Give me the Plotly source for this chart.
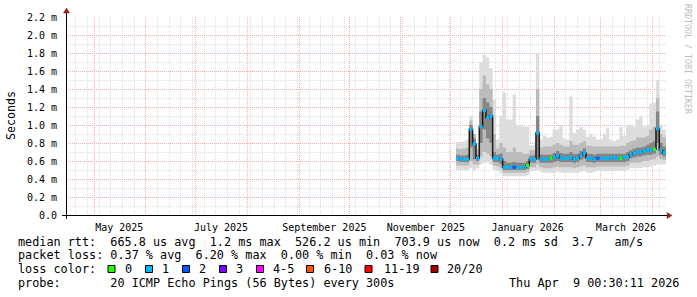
import plotly.graph_objects as go
import pandas as pd

# ---------------- data (values in ms) ----------------
dates = pd.date_range("2025-12-04", periods=64, freq="2D")

median_ms = [0.63, 0.62, 0.62, 0.62, 0.95, 0.79, 0.63, 0.98, 1.16, 1.08,
             1.10, 0.63, 0.63, 0.62, 0.53, 0.53, 0.53, 0.53, 0.53, 0.53,
             0.53, 0.55, 0.62, 0.62, 0.91, 0.62, 0.62, 0.62, 0.63, 0.64,
             0.66, 0.63, 0.63, 0.63, 0.64, 0.62, 0.63, 0.66, 0.69, 0.63,
             0.63, 0.62, 0.63, 0.63, 0.63, 0.63, 0.63, 0.64, 0.63, 0.63,
             0.64, 0.64, 0.67, 0.69, 0.70, 0.70, 0.71, 0.72, 0.72, 0.73,
             0.96, 0.72, 0.69, 0.70]
lo_ms = [0.50, 0.50, 0.50, 0.50, 0.52, 0.50, 0.52, 0.56, 0.58, 0.58,
         0.56, 0.50, 0.49, 0.47, 0.43, 0.43, 0.43, 0.43, 0.43, 0.43,
         0.43, 0.44, 0.49, 0.49, 0.50, 0.48, 0.47, 0.47, 0.47, 0.47,
         0.48, 0.47, 0.47, 0.47, 0.47, 0.47, 0.47, 0.48, 0.49, 0.47,
         0.47, 0.48, 0.49, 0.49, 0.49, 0.49, 0.49, 0.49, 0.49, 0.49,
         0.49, 0.50, 0.52, 0.52, 0.52, 0.52, 0.53, 0.53, 0.54, 0.55,
         0.56, 0.56, 0.56, 0.56]
lo2_ms = [0.55, 0.55, 0.55, 0.55, 0.60, 0.56, 0.56, 0.65, 0.70, 0.68,
          0.65, 0.55, 0.54, 0.52, 0.47, 0.47, 0.47, 0.47, 0.47, 0.47,
          0.47, 0.48, 0.53, 0.53, 0.56, 0.53, 0.52, 0.52, 0.52, 0.53,
          0.54, 0.53, 0.53, 0.53, 0.53, 0.52, 0.53, 0.54, 0.55, 0.53,
          0.53, 0.53, 0.54, 0.54, 0.54, 0.54, 0.54, 0.54, 0.54, 0.54,
          0.54, 0.55, 0.58, 0.58, 0.58, 0.59, 0.60, 0.60, 0.61, 0.62,
          0.65, 0.62, 0.61, 0.61]
lo3_ms = [0.60, 0.59, 0.59, 0.59, 0.75, 0.62, 0.60, 0.80, 0.95, 0.85,
          0.80, 0.59, 0.59, 0.57, 0.50, 0.50, 0.50, 0.50, 0.50, 0.50,
          0.50, 0.51, 0.58, 0.58, 0.62, 0.58, 0.58, 0.58, 0.58, 0.59,
          0.60, 0.59, 0.59, 0.59, 0.59, 0.58, 0.59, 0.61, 0.63, 0.59,
          0.59, 0.58, 0.59, 0.59, 0.59, 0.59, 0.59, 0.59, 0.59, 0.59,
          0.59, 0.60, 0.63, 0.64, 0.65, 0.65, 0.66, 0.67, 0.67, 0.68,
          0.80, 0.67, 0.65, 0.66]
hi3_ms = [0.67, 0.66, 0.66, 0.67, 1.00, 0.85, 0.67, 1.15, 1.30, 1.25,
          1.20, 0.70, 0.67, 0.68, 0.60, 0.58, 0.58, 0.59, 0.58, 0.58,
          0.58, 0.60, 0.66, 0.66, 1.10, 0.67, 0.67, 0.67, 0.67, 0.69,
          0.71, 0.69, 0.68, 0.68, 0.70, 0.68, 0.68, 0.71, 0.74, 0.68,
          0.68, 0.67, 0.68, 0.68, 0.68, 0.68, 0.68, 0.68, 0.68, 0.68,
          0.68, 0.70, 0.72, 0.74, 0.75, 0.75, 0.76, 0.78, 0.80, 0.82,
          1.15, 0.80, 0.76, 0.76]
hi2_ms = [0.74, 0.73, 0.74, 0.75, 1.05, 0.90, 0.73, 1.40, 1.55, 1.45,
          1.40, 0.90, 0.74, 0.80, 0.75, 0.70, 0.70, 0.75, 0.70, 0.70,
          0.68, 0.68, 0.72, 0.72, 1.40, 0.75, 0.76, 0.76, 0.76, 0.78,
          0.80, 0.78, 0.76, 0.76, 0.82, 0.78, 0.78, 0.80, 0.82, 0.77,
          0.77, 0.76, 0.76, 0.76, 0.76, 0.76, 0.76, 0.76, 0.76, 0.77,
          0.77, 0.80, 0.82, 0.83, 0.86, 0.86, 0.86, 0.88, 0.95, 0.98,
          1.30, 0.90, 0.86, 0.86]
hi_ms = [0.81, 0.81, 0.82, 0.84, 1.10, 0.90, 0.80, 1.70, 1.78, 1.75,
         1.63, 1.28, 0.84, 1.10, 1.36, 1.06, 1.06, 1.34, 1.00, 1.00,
         0.98, 0.98, 0.77, 0.78, 1.80, 0.84, 0.88, 0.86, 0.87, 0.95,
         0.95, 1.00, 0.85, 0.84, 1.32, 0.91, 0.95, 0.98, 0.95, 0.87,
         0.90, 0.87, 0.84, 0.84, 0.90, 0.97, 0.84, 0.82, 0.84, 0.98,
         0.88, 1.00, 1.00, 0.98, 1.06, 1.10, 0.98, 1.00, 1.24, 1.25,
         1.50, 1.00, 0.95, 0.95]
loss_bucket = [1] * 64
for i in (21, 28, 49, 59):
    loss_bucket[i] = 0
for i in (17, 42):
    loss_bucket[i] = 2

loss_labels = ["0", "1", "2", "3", "4-5", "6-10", "11-19", "20/20"]
loss_colors = ["#26ff00", "#00b8ff", "#0059ff", "#7e00ff", "#ff00ff",
               "#ff5500", "#ff0000", "#a10000"]

month_starts = pd.date_range("2025-05-01", "2026-04-01", freq="MS")
month_text = ["May 2025", "", "July 2025", "", "September 2025", "",
              "November 2025", "", "January 2026", "", "March 2026", ""]
y_ticks = [0.0, 0.2, 0.4, 0.6, 0.8, 1.0, 1.2, 1.4, 1.6, 1.8, 2.0, 2.2]
y_text = ["0.0", "0.2 m", "0.4 m", "0.6 m", "0.8 m", "1.0 m", "1.2 m",
          "1.4 m", "1.6 m", "1.8 m", "2.0 m", "2.2 m"]

legend_line1 = "median rtt:  665.8 us avg  1.2 ms max  526.2 us min  703.9 us now  0.2 ms sd  3.7   am/s"
legend_line2 = "packet loss: 0.37 % avg  6.20 % max  0.00 % min  0.03 % now"
legend_line4 = "probe:       20 ICMP Echo Pings (56 Bytes) every 300s"
stamp = "Thu Apr  9 00:30:11 2026"

# ---------------- layout geometry ----------------
W, H = 697, 297
L, R, T, B = 66, 31, 17, 82
PW, PH = W - L - R, H - T - B
MONO = "DejaVu Sans Mono"


def px(x):
    return (x - L) / PW


def py(y):
    return (H - B - y) / PH


def nb(s):
    return s.replace(" ", "\u00a0")


fig = go.Figure()

# smoke bands
for lo, hi, col in [(lo_ms, hi_ms, "#dddddd"), (lo2_ms, hi2_ms, "#bbbbbb"),
                    (lo3_ms, hi3_ms, "#858585")]:
    fig.add_trace(go.Scatter(x=dates, y=lo, mode="lines",
                             line=dict(width=0, shape="hv"),
                             showlegend=False, hoverinfo="skip"))
    fig.add_trace(go.Scatter(x=dates, y=hi, mode="lines",
                             line=dict(width=0, shape="hv"), fill="tonexty",
                             fillcolor=col, showlegend=False,
                             hoverinfo="skip"))

# dark median step line
fig.add_trace(go.Scatter(x=dates, y=median_ms, mode="lines",
                         line=dict(color="#1a1a1a", width=1.5, shape="hv"),
                         showlegend=False))

# colored median segments by loss bucket
step = pd.Timedelta(days=2)
for b, col in enumerate(loss_colors):
    xs, ys = [], []
    for i, m in enumerate(median_ms):
        if loss_bucket[i] == b:
            xs += [dates[i], dates[i] + step, None]
            ys += [m, m, None]
    if xs:
        fig.add_trace(go.Scatter(x=xs, y=ys, mode="lines",
                                 line=dict(color=col, width=3),
                                 showlegend=False))

MAJ = "#f2b0b0"
MINC = "#dedede"

fig.update_layout(
    width=W, height=H,
    margin=dict(l=L, r=R, t=T, b=B, pad=0),
    paper_bgcolor="white", plot_bgcolor="white",
    showlegend=False,
    xaxis=dict(
        type="date",
        range=["2025-04-14 00:30", "2026-04-09 00:30"],
        tickmode="array", tickvals=month_starts, ticktext=month_text,
        ticklabelshift=25,
        showgrid=True, gridcolor=MAJ, griddash="1px,1px", gridwidth=1,
        minor=dict(tickmode="array",
                   tickvals=pd.date_range("2025-04-20", "2026-04-09", freq="7D"),
                   showgrid=True, gridcolor=MINC, griddash="1px,1px",
                   gridwidth=1),
        zeroline=False, showline=False,
        ticks="outside", ticklen=3, tickcolor="rgba(0,0,0,0)",
        tickfont=dict(family=MONO, size=10, color="#000"),
    ),
    yaxis=dict(
        range=[0, 2.2],
        tickmode="array", tickvals=y_ticks, ticktext=y_text,
        showgrid=True, gridcolor=MAJ, griddash="1px,1px", gridwidth=1,
        minor=dict(dtick=0.1, tick0=0, showgrid=True, gridcolor=MINC,
                   griddash="1px,1px", gridwidth=1),
        zeroline=False, showline=False,
        ticks="outside", ticklen=6, tickcolor="rgba(0,0,0,0)",
        tickfont=dict(family=MONO, size=10, color="#000"),
    ),
)

shapes = []
# axes lines
shapes.append(dict(type="line", xref="paper", yref="paper",
                   x0=px(62), x1=px(668), y0=py(215.5), y1=py(215.5),
                   line=dict(color="#000", width=1)))
shapes.append(dict(type="line", xref="paper", yref="paper",
                   x0=px(66.5), x1=px(66.5), y0=py(219), y1=py(12),
                   line=dict(color="#000", width=1)))
# arrows
shapes.append(dict(type="path", xref="paper", yref="paper",
                   path=f"M {px(667)},{py(212.5)} L {px(672)},{py(215.5)} L {px(667)},{py(218.5)} Z",
                   fillcolor="#9b1c1c", line=dict(color="#9b1c1c", width=0.5)))
shapes.append(dict(type="path", xref="paper", yref="paper",
                   path=f"M {px(63.5)},{py(13)} L {px(66.5)},{py(8)} L {px(69.5)},{py(13)} Z",
                   fillcolor="#9b1c1c", line=dict(color="#9b1c1c", width=0.5)))

# legend boxes
box_x = [108, 145.5, 182.5, 219.5, 256.5, 306.5, 365, 431]
lab_x = [123, 160, 197, 234, 270.5, 321.5, 381.5, 445]
for bx, col in zip(box_x, loss_colors):
    shapes.append(dict(type="rect", xref="paper", yref="paper",
                       x0=px(bx), x1=px(bx + 7), y0=py(265.5), y1=py(272.5),
                       fillcolor=col, line=dict(color="#000", width=1)))
fig.update_layout(shapes=shapes)

ann = []


def text_at(x, y, s, size=11.8, anchor="left", color="#000", angle=0):
    ann.append(dict(x=px(x), y=py(y), xref="paper", yref="paper",
                    text=nb(s), showarrow=False, xanchor=anchor,
                    yanchor="middle", textangle=angle,
                    font=dict(family=MONO, size=size, color=color)))


text_at(16, 241.5, legend_line1)
text_at(16, 255, legend_line2)
text_at(16, 269, "loss color:")
for lx, lab in zip(lab_x, loss_labels):
    text_at(lx, 269, lab)
text_at(16, 282.5, legend_line4)
text_at(681, 282.5, stamp, anchor="right")
ann.append(dict(x=px(11), y=py(116), xref="paper", yref="paper",
                text="Seconds", showarrow=False, textangle=-90,
                xanchor="center", yanchor="middle",
                font=dict(family=MONO, size=11.6, color="#000")))
ann.append(dict(x=px(688), y=py(59), xref="paper", yref="paper",
                text=nb("RRDTOOL / TOBI OETIKER"), showarrow=False,
                textangle=90, xanchor="center", yanchor="middle",
                font=dict(family=MONO, size=8.3, color="#bdbdbd")))
fig.update_layout(annotations=ann)

fig.write_html("out.html")
